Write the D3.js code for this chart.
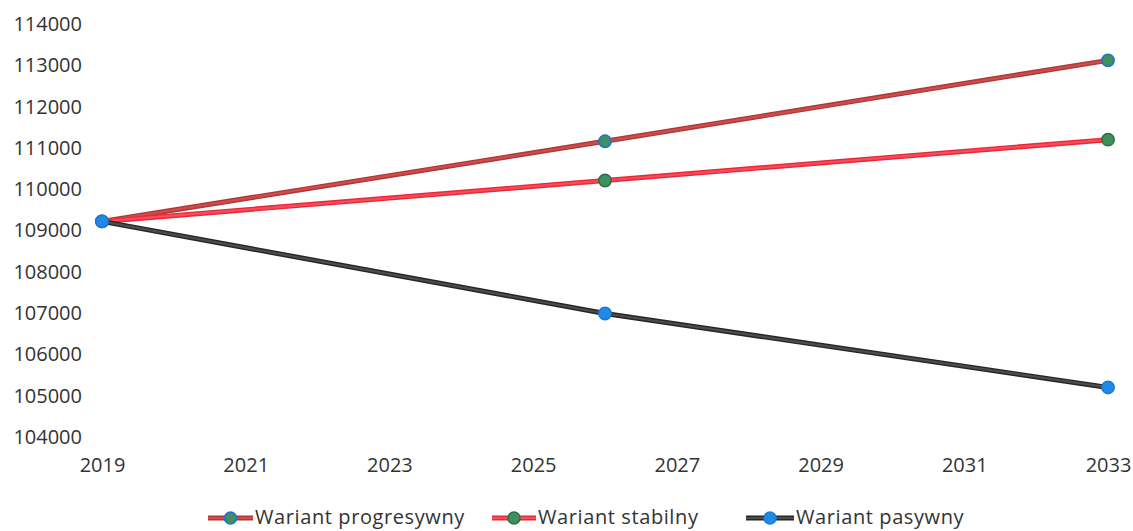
<!DOCTYPE html>
<html>
<head>
<meta charset="utf-8">
<script src="https://cdn.jsdelivr.net/npm/d3@7"></script>
<style>
  html, body { margin: 0; padding: 0; background: #fff; }
  svg { display: block; font-family: "Open Sans", sans-serif; }
</style>
</head>
<body>
<svg id="chart" width="1133" height="531"></svg>
<script>
// Population forecast variants
const years = [2019, 2026, 2033];
const progresywny = [109220, 111160, 113120];
const stabilny = [109220, 110210, 111200];
const pasywny = [109220, 106990, 105200];

const xTicks = [2019, 2021, 2023, 2025, 2027, 2029, 2031, 2033];
const yTicks = [104000, 105000, 106000, 107000, 108000, 109000, 110000, 111000, 112000, 113000, 114000];

const seriesNames = ["Wariant progresywny", "Wariant stabilny", "Wariant pasywny"];

const styles = [
  { outer: "#ad3838", inner: "#d24b4b", fill: "#3f8f5f", stroke: "#1f6fd6" },
  { outer: "#e42a3b", inner: "#ff4a58", fill: "#3f8f5f", stroke: "#2c6e44" },
  { outer: "#262626", inner: "#4d4d4d", fill: "#1f8ae8", stroke: "#1a7ad6" }
];

const svg = d3.select("#chart");
const x = d3.scaleLinear().domain([2019, 2033]).range([102, 1108]);
const y = d3.scaleLinear().domain([104000, 114000]).range([437, 24]);

// Y axis labels
const yAxis = d3.axisLeft(y).tickValues(yTicks).tickFormat(d3.format("d")).tickSize(0).tickPadding(0);
const gy = svg.append("g").attr("transform", "translate(82,0)").call(yAxis);
gy.select(".domain").remove();
gy.selectAll("text").attr("font-size", 20).attr("fill", "#333").attr("font-family", "Open Sans, sans-serif");

// X axis labels
const xAxis = d3.axisBottom(x).tickValues(xTicks).tickFormat(d3.format("d")).tickSize(0).tickPadding(0);
const gx = svg.append("g").attr("transform", "translate(0,458)").call(xAxis);
gx.select(".domain").remove();
gx.selectAll("text").attr("font-size", 20).attr("fill", "#333").attr("font-family", "Open Sans, sans-serif");

const data = [progresywny, stabilny, pasywny];
const line = d3.line().x((d, i) => x(years[i])).y(d => y(d));

data.forEach((vals, k) => {
  const s = styles[k];
  const g = svg.append("g");
  g.append("path").attr("d", line(vals)).attr("fill", "none")
    .attr("stroke", s.outer).attr("stroke-width", 5).attr("stroke-linecap", "round");
  g.append("path").attr("d", line(vals)).attr("fill", "none")
    .attr("stroke", s.inner).attr("stroke-width", 2.2).attr("stroke-linecap", "round");
  g.selectAll("circle").data(vals).join("circle")
    .attr("cx", (d, i) => x(years[i])).attr("cy", d => y(d)).attr("r", 6.2)
    .attr("fill", s.fill).attr("stroke", s.stroke).attr("stroke-width", 1.5);
});

// Legend
const legendItems = [
  { x: 208, w: 45 },
  { x: 492, w: 44 },
  { x: 746, w: 48 }
];
const ly = 518;
seriesNames.forEach((name, k) => {
  const s = styles[k];
  const it = legendItems[k];
  const g = svg.append("g");
  g.append("line").attr("x1", it.x).attr("x2", it.x + it.w).attr("y1", ly).attr("y2", ly)
    .attr("stroke", s.outer).attr("stroke-width", 5);
  g.append("line").attr("x1", it.x).attr("x2", it.x + it.w).attr("y1", ly).attr("y2", ly)
    .attr("stroke", s.inner).attr("stroke-width", 2.2);
  g.append("circle").attr("cx", it.x + it.w / 2).attr("cy", ly).attr("r", 6)
    .attr("fill", s.fill).attr("stroke", s.stroke).attr("stroke-width", 1.5);
  g.append("text").attr("x", it.x + it.w + 2).attr("y", ly).attr("dy", "0.3em")
    .attr("font-size", 20).attr("letter-spacing", 0.6).attr("fill", "#333").text(name);
});
</script>
</body>
</html>
